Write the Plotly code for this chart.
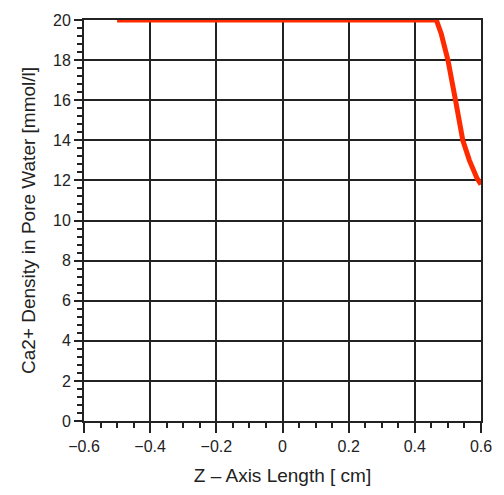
import plotly.graph_objects as go

z_cm = [-0.5, 0.465, 0.48, 0.5, 0.523, 0.545, 0.565, 0.588, 0.6]
ca = [20, 20, 19.3, 18.0, 16.0, 14.0, 13.0, 12.1, 11.8]

x_ticks = [-0.6, -0.4, -0.2, 0, 0.2, 0.4, 0.6]
x_labels = ["\u22120.6", "\u22120.4", "\u22120.2", "0", "0.2", "0.4", "0.6"]
y_ticks = [0, 2, 4, 6, 8, 10, 12, 14, 16, 18, 20]

fig = go.Figure()
fig.add_trace(go.Scatter(x=z_cm, y=ca, mode="lines",
                         line=dict(color="#ff2a00", width=5), showlegend=False))

font = dict(family="Liberation Sans, Arial, sans-serif", size=16, color="#222")
fig.update_layout(
    width=504, height=495,
    margin=dict(l=84, r=16, t=17, b=74),
    paper_bgcolor="white", plot_bgcolor="white",
    font=font,
    xaxis=dict(range=[-0.6, 0.6], tickvals=x_ticks, ticktext=x_labels,
               showgrid=True, gridcolor="#222", gridwidth=2,
               showline=True, linecolor="#222", linewidth=2, mirror=True,
               ticks="outside", ticklen=10, tickwidth=2, tickcolor="#222",
               minor=dict(dtick=0.05, ticks="outside", ticklen=5, tickwidth=1.5,
                          tickcolor="#222", showgrid=False),
               zeroline=False,
               title=dict(text="Z \u2013 Axis Length [ cm]", standoff=14)),
    yaxis=dict(range=[0, 20], tickvals=y_ticks,
               showgrid=True, gridcolor="#222", gridwidth=2,
               showline=True, linecolor="#222", linewidth=2, mirror=True,
               ticks="outside", ticklen=8, tickwidth=2, tickcolor="#222",
               minor=dict(dtick=0.4, ticks="outside", ticklen=5, tickwidth=1.5,
                          tickcolor="#222", showgrid=False),
               zeroline=False,
               title=dict(text="Ca2+ Density in Pore Water [mmol/l]", standoff=12)),
)
fig.write_html("out.html")
